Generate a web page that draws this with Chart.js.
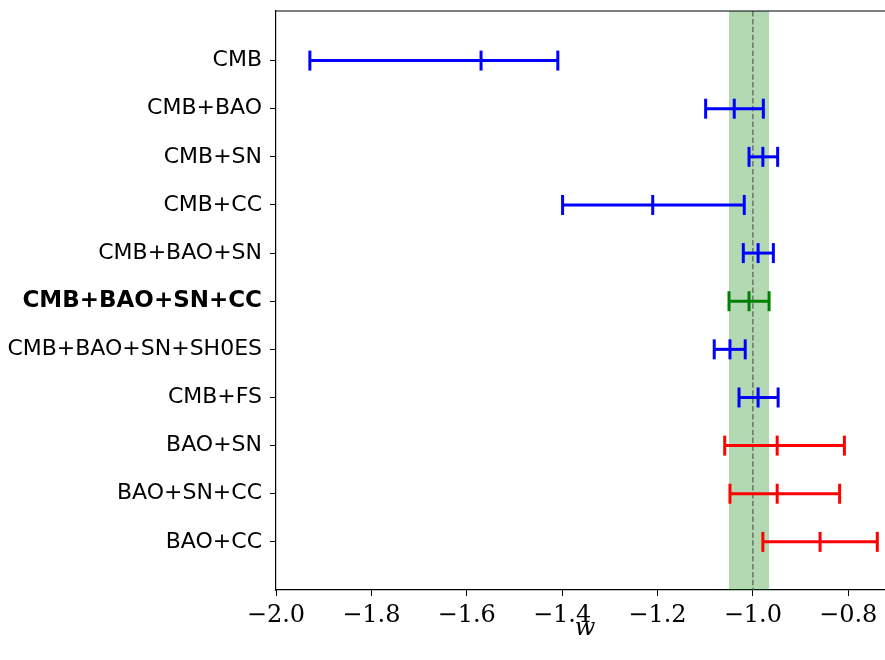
<!DOCTYPE html>
<html>
<head>
<meta charset="utf-8">
<script src="https://cdn.jsdelivr.net/npm/chart.js@4.4.0/dist/chart.umd.min.js"></script>
<style>
  html, body { margin: 0; padding: 0; background: #fff; overflow: hidden; }
  canvas { display: block; }
</style>
</head>
<body>
<canvas id="c" width="895" height="660"></canvas>
<script>
var rowLabels = ['CMB', 'CMB+BAO', 'CMB+SN', 'CMB+CC', 'CMB+BAO+SN', 'CMB+BAO+SN+CC',
                 'CMB+BAO+SN+SH0ES', 'CMB+FS', 'BAO+SN', 'BAO+SN+CC', 'BAO+CC'];
var wCenter = [-1.570, -1.039, -0.979, -1.210, -0.989, -1.008, -1.048, -0.989, -0.949, -0.949, -0.859];
var wLow    = [-1.929, -1.099, -1.008, -1.399, -1.020, -1.050, -1.081, -1.029, -1.059, -1.048, -0.979];
var wHigh   = [-1.409, -0.978, -0.948, -1.018, -0.957, -0.966, -1.016, -0.947, -0.808, -0.818, -0.739];
var rowColors = ['#0000ff', '#0000ff', '#0000ff', '#0000ff', '#0000ff', '#008000',
                 '#0000ff', '#0000ff', '#ff0000', '#ff0000', '#ff0000'];
var boldRow = 5;
var bandLow = -1.050;
var bandHigh = -0.966;
var refW = -1.0;
var xTicks = [-2.0, -1.8, -1.6, -1.4, -1.2, -1.0, -0.8];

var yMin = -1.03, yMax = 11;

var datasets = [];
for (var i = 0; i < rowLabels.length; i++) {
    datasets.push({
        data: [{x: wLow[i], y: i}, {x: wCenter[i], y: i}, {x: wHigh[i], y: i}],
        borderColor: rowColors[i],
        backgroundColor: rowColors[i],
        borderWidth: 3,
        pointStyle: 'line',
        rotation: 90,
        pointRadius: 10,
        pointBorderWidth: 3,
        showLine: true,
        order: 1
    });
}
// reference line at w = -1
datasets.push({
    data: [{x: refW, y: yMin}, {x: refW, y: yMax}],
    borderColor: 'rgba(90,90,90,0.8)',
    borderWidth: 1.5,
    borderDash: [5.5, 2.4],
    pointRadius: 0,
    showLine: true,
    order: 100
});

// green band and top spine
var extras = {
    id: 'extras',
    beforeDatasetsDraw: function(chart) {
        var ctx = chart.ctx, a = chart.chartArea, x = chart.scales.x;
        var x0 = x.getPixelForValue(bandLow), x1 = x.getPixelForValue(bandHigh);
        ctx.save();
        ctx.fillStyle = 'rgba(0,128,0,0.3)';
        ctx.fillRect(x0, a.top, x1 - x0, a.bottom - a.top);
        ctx.restore();
    },
    afterDraw: function(chart) {
        var ctx = chart.ctx, a = chart.chartArea;
        ctx.save();
        ctx.strokeStyle = '#000';
        ctx.lineWidth = 1.2;
        ctx.beginPath();
        ctx.moveTo(a.left, a.top);
        ctx.lineTo(a.right, a.top);
        ctx.stroke();
        ctx.restore();
    }
};

new Chart(document.getElementById('c').getContext('2d'), {
    type: 'scatter',
    data: {datasets: datasets},
    plugins: [extras],
    options: {
        responsive: false,
        animation: false,
        layout: {autoPadding: false, padding: {top: 11, right: 1, left: 0, bottom: 0}},
        plugins: {legend: {display: false}, tooltip: {enabled: false}},
        scales: {
            x: {
                type: 'linear',
                min: -2.0,
                max: -0.704,
                afterBuildTicks: function(s) { s.ticks = xTicks.map(function(v) { return {value: v}; }); },
                afterFit: function(s) { s.height = 70; s.paddingLeft = 0; s.paddingRight = 0; },
                grid: {drawOnChartArea: false, drawTicks: true, tickLength: 6, color: '#000', lineWidth: 1},
                border: {display: true, color: '#000', width: 1.2},
                ticks: {
                    color: '#000',
                    padding: 5,
                    maxRotation: 0,
                    font: {family: 'DejaVu Serif', size: 24},
                    callback: function(v) { return (v < 0 ? '\u2212' : '') + Math.abs(v).toFixed(1); }
                },
                title: {
                    display: true,
                    text: 'w',
                    color: '#000',
                    font: {family: 'DejaVu Serif', size: 24, style: 'italic'},
                    padding: {top: 0, bottom: 17}
                }
            },
            y: {
                type: 'linear',
                reverse: true,
                min: yMin,
                max: yMax,
                afterBuildTicks: function(s) { s.ticks = rowLabels.map(function(_, i) { return {value: i}; }); },
                afterFit: function(s) { s.width = 276; s.paddingTop = 0; s.paddingBottom = 0; },
                grid: {drawOnChartArea: false, drawTicks: true, tickLength: 6, color: '#000', lineWidth: 1},
                border: {display: true, color: '#000', width: 1.2},
                ticks: {
                    color: '#000',
                    padding: 8,
                    font: function(c) {
                        var b = c.tick && c.tick.value === boldRow;
                        return {family: 'DejaVu Sans', size: b ? 23 : 22, weight: b ? 'bold' : 'normal'};
                    },
                    callback: function(v) { return rowLabels[v]; }
                }
            }
        }
    }
});
</script>
</body>
</html>
